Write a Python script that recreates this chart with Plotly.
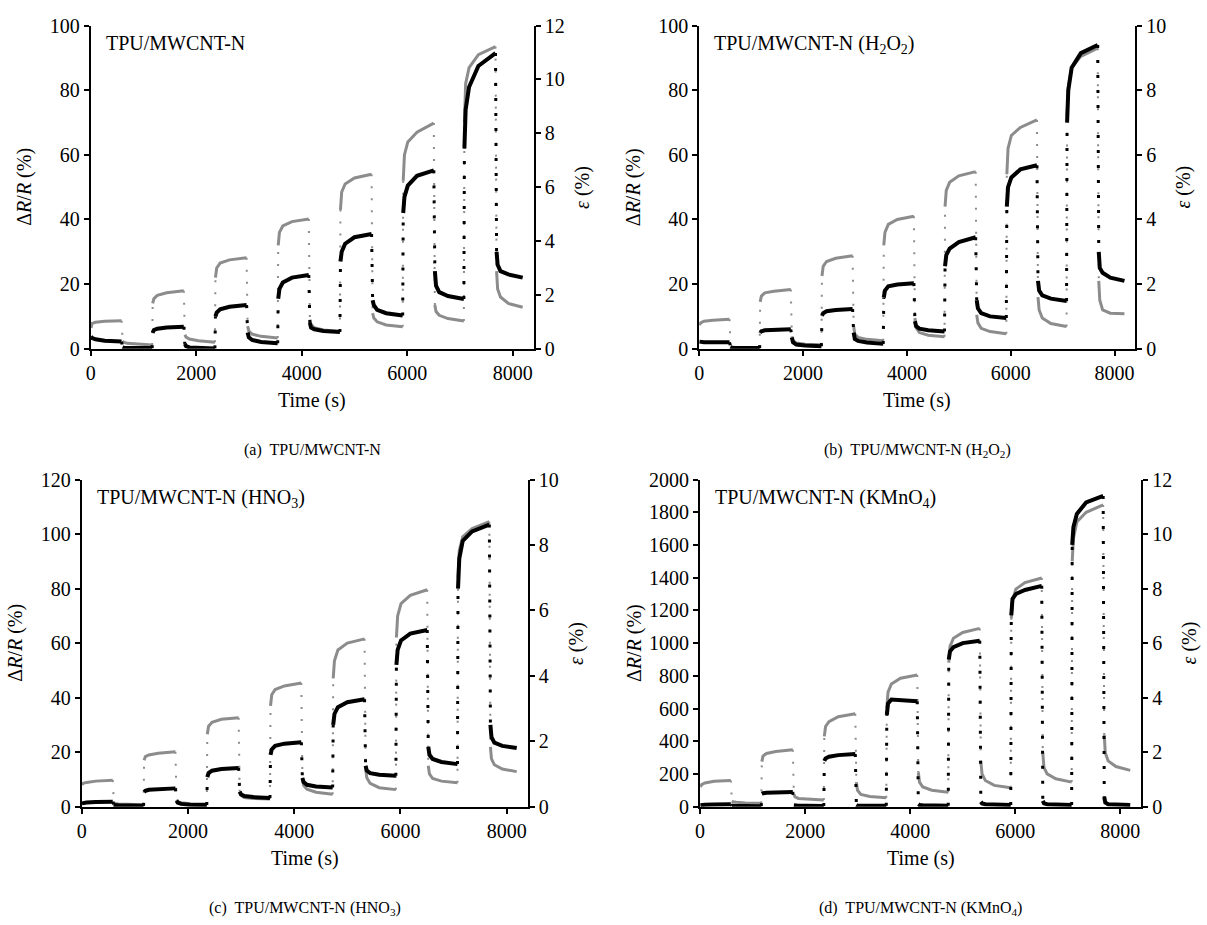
import plotly.graph_objects as go

# ---------------- timing of the loading programme (s) ----------------
LOAD_T = [0, 1170, 2360, 3550, 4730, 5920, 7080]
UNLOAD_T = [590, 1770, 2960, 4140, 5330, 6510, 7680]
END_T = 8190
SAMPLE_FRAC = [0.0, 0.04, 0.15, 0.45, 1.0]   # where in each segment the values were read

X_TICKS = [0, 2000, 4000, 6000, 8000]

# ---------------- panel (a) TPU/MWCNT-N ----------------
DRR_A = [[3.8, 3.3, 2.9, 2.5, 2.2], [0.5, 0.3, 0.2, 0.2, 0.2],
         [5.0, 5.8, 6.2, 6.6, 6.8], [1.5, 0.8, 0.4, 0.2, 0.1],
         [10.0, 11.2, 12.2, 13.0, 13.5], [5.0, 3.5, 2.7, 2.1, 1.7],
         [15.5, 18.5, 20.5, 22.0, 22.8], [8.0, 6.5, 6.0, 5.5, 5.2],
         [27, 30, 32.5, 34.5, 35.5], [15, 13.5, 12, 11, 10.3],
         [42, 47, 50.5, 53.5, 55.2], [24, 19.5, 17.5, 16.3, 15.4],
         [62, 74, 81, 87.5, 91.5], [30, 26, 24, 23, 22]]
EPS_A = [[0.78, 0.94, 0.98, 1.02, 1.04], [0.28, 0.24, 0.20, 0.17, 0.14],
         [1.68, 1.86, 1.98, 2.08, 2.15], [0.52, 0.43, 0.36, 0.30, 0.24],
         [2.64, 3.00, 3.18, 3.30, 3.38], [0.84, 0.66, 0.54, 0.46, 0.40],
         [3.84, 4.32, 4.56, 4.72, 4.82], [1.08, 0.90, 0.78, 0.70, 0.64],
         [5.16, 5.82, 6.12, 6.34, 6.48], [1.32, 1.14, 1.00, 0.88, 0.82],
         [6.24, 7.20, 7.68, 8.04, 8.38], [1.62, 1.38, 1.24, 1.12, 1.03],
         [8.40, 9.84, 10.44, 10.92, 11.22], [2.88, 2.22, 1.92, 1.68, 1.54]]

# ---------------- panel (b) TPU/MWCNT-N (H2O2) ----------------
DRR_B = [[2.2, 2.1, 2.0, 2.0, 2.0], [0.5, 0.3, 0.2, 0.2, 0.2],
         [5.0, 5.4, 5.7, 5.9, 6.0], [3.5, 2.0, 1.3, 1.0, 0.8],
         [10.3, 11.0, 11.6, 12.0, 12.3], [5.0, 3.0, 2.4, 1.9, 1.5],
         [15.8, 18.0, 19.3, 19.9, 20.3], [8.5, 7.0, 6.2, 5.7, 5.3],
         [25.5, 29, 31, 33, 34.5], [15, 12.5, 11, 10, 9.5],
         [44, 50, 53, 55.5, 56.8], [21, 18, 16.5, 15.5, 14.8],
         [70, 80, 87, 91.5, 94], [30, 25, 23.5, 22, 21]]
EPS_B = [[0.73, 0.80, 0.85, 0.88, 0.91], [0.08, 0.05, 0.04, 0.03, 0.03],
         [1.45, 1.63, 1.73, 1.78, 1.83], [0.38, 0.25, 0.18, 0.14, 0.12],
         [2.25, 2.55, 2.70, 2.80, 2.88], [0.70, 0.45, 0.35, 0.29, 0.25],
         [3.2, 3.6, 3.85, 4.0, 4.1], [0.95, 0.65, 0.50, 0.42, 0.37],
         [4.4, 4.9, 5.15, 5.35, 5.48], [1.05, 0.80, 0.63, 0.53, 0.46],
         [5.4, 6.2, 6.6, 6.85, 7.08], [1.6, 1.2, 0.95, 0.78, 0.69],
         [7.2, 8.1, 8.7, 9.05, 9.3], [2.1, 1.5, 1.2, 1.1, 1.08]]

# ---------------- panel (c) TPU/MWCNT-N (HNO3) ----------------
DRR_C = [[1.2, 1.3, 1.5, 1.7, 1.8], [0.8, 0.6, 0.5, 0.4, 0.3],
         [5.3, 5.8, 6.2, 6.5, 6.7], [2.2, 1.5, 1.0, 0.7, 0.6],
         [10.8, 12.3, 13.2, 13.8, 14.2], [5.5, 4.5, 3.9, 3.5, 3.2],
         [19, 21, 22.3, 23.1, 23.6], [10.5, 9.0, 8.0, 7.4, 7.0],
         [30, 34, 36.5, 38.3, 39.4], [15, 13.2, 12.3, 11.7, 11.3],
         [52, 57.5, 61, 63.5, 64.8], [22, 19, 17.5, 16.4, 15.6],
         [80, 91, 97.5, 101, 103.5], [30, 25.5, 23.5, 22.3, 21.5]]
EPS_C = [[0.67, 0.71, 0.74, 0.78, 0.81], [0.13, 0.10, 0.08, 0.07, 0.06],
         [1.42, 1.53, 1.58, 1.63, 1.68], [0.21, 0.15, 0.12, 0.09, 0.08],
         [2.21, 2.46, 2.58, 2.67, 2.72], [0.46, 0.35, 0.28, 0.25, 0.23],
         [3.08, 3.42, 3.58, 3.69, 3.78], [0.88, 0.65, 0.53, 0.44, 0.38],
         [3.92, 4.46, 4.79, 5.0, 5.13], [1.17, 0.88, 0.71, 0.58, 0.52],
         [5.17, 5.83, 6.21, 6.46, 6.63], [1.25, 1.0, 0.86, 0.78, 0.73],
         [7.0, 7.83, 8.25, 8.5, 8.71], [1.83, 1.46, 1.28, 1.15, 1.07]]

# ---------------- panel (d) TPU/MWCNT-N (KMnO4) ----------------
DRR_D = [[8, 10, 12, 13, 14], [6, 5, 4, 4, 3],
         [78, 82, 85, 88, 90], [8, 6, 5, 5, 4],
         [280, 295, 305, 315, 322], [10, 6, 5, 5, 5],
         [560, 630, 655, 650, 645], [15, 10, 8, 7, 6],
         [900, 950, 975, 1000, 1015], [30, 20, 15, 12, 10],
         [1170, 1270, 1300, 1325, 1350], [35, 20, 15, 12, 10],
         [1600, 1710, 1790, 1860, 1900], [60, 25, 15, 12, 10]]
EPS_D = [[0.72, 0.81, 0.87, 0.93, 0.96], [0.21, 0.18, 0.16, 0.13, 0.12],
         [1.65, 1.86, 1.95, 2.02, 2.09], [0.45, 0.36, 0.30, 0.27, 0.24],
         [2.58, 2.94, 3.12, 3.30, 3.41], [0.90, 0.60, 0.45, 0.37, 0.33],
         [3.60, 4.20, 4.50, 4.71, 4.83], [1.26, 0.90, 0.72, 0.60, 0.53],
         [5.28, 5.88, 6.18, 6.39, 6.54], [1.68, 1.20, 0.96, 0.78, 0.69],
         [6.90, 7.56, 7.98, 8.22, 8.39], [1.98, 1.44, 1.20, 1.02, 0.90],
         [9.0, 9.84, 10.44, 10.80, 11.07], [2.64, 1.98, 1.68, 1.47, 1.33]]

PANELS = [
    dict(drr=DRR_A, eps=EPS_A, ymax=100, ydt=20, emax=12,
         label="TPU/MWCNT-N", caption="(a)  TPU/MWCNT-N",
         xdom=[0.0713, 0.4399], ydom=[0.626, 0.9838]),
    dict(drr=DRR_B, eps=EPS_B, ymax=100, ydt=20, emax=10,
         label="TPU/MWCNT-N (H<sub>2</sub>O<sub>2</sub>)",
         caption="(b)  TPU/MWCNT-N (H<sub>2</sub>O<sub>2</sub>)",
         xdom=[0.5775, 0.9404], ydom=[0.626, 0.9838]),
    dict(drr=DRR_C, eps=EPS_C, ymax=120, ydt=20, emax=10,
         label="TPU/MWCNT-N (HNO<sub>3</sub>)",
         caption="(c)  TPU/MWCNT-N (HNO<sub>3</sub>)",
         xdom=[0.0638, 0.4350], ydom=[0.1189, 0.4811]),
    dict(drr=DRR_D, eps=EPS_D, ymax=2000, ydt=200, emax=12,
         label="TPU/MWCNT-N (KMnO<sub>4</sub>)",
         caption="(d)  TPU/MWCNT-N (KMnO<sub>4</sub>)",
         xdom=[0.5783, 0.9453], ydom=[0.1189, 0.4811]),
]

FONT = "Liberation Serif"
BLACK = "#000000"
GREY = "#8c8c8c"


def segment_bounds(k):
    i = k // 2
    if k % 2 == 0:
        return LOAD_T[i] + 5, UNLOAD_T[i] - 5
    t1 = LOAD_T[i + 1] - 5 if i + 1 < len(LOAD_T) else END_T
    return UNLOAD_T[i] + 15, t1


def build(series):
    xs, ys, tx, ty = [], [], [], []
    prev = None
    for k, vals in enumerate(series):
        t0, t1 = segment_bounds(k)
        t = [t0 + f * (t1 - t0) for f in SAMPLE_FRAC]
        xs += t + [None]
        ys += list(vals) + [None]
        if prev is not None:
            tx += [prev[0], t[0], None]
            ty += [prev[1], vals[0], None]
        prev = (t[-1], vals[-1])
    return xs, ys, tx, ty


fig = go.Figure()
annotations = []
layout = {}

for p_i, p in enumerate(PANELS):
    n = p_i + 1
    xa = f"x{n}"
    y_eps = f"y{2 * n - 1}"   # base axis (right side, strain)
    y_drr = f"y{2 * n}"       # overlay axis (left side, dR/R)

    ex, ey, etx, ety = build(p["eps"])
    dx, dy, dtx, dty = build(p["drr"])

    fig.add_trace(go.Scatter(x=etx, y=ety, mode="lines", xaxis=xa, yaxis=y_eps,
                             line=dict(color=GREY, width=2, dash="2px,10px"),
                             showlegend=False, hoverinfo="skip"))
    fig.add_trace(go.Scatter(x=ex, y=ey, mode="lines", xaxis=xa, yaxis=y_eps,
                             line=dict(color=GREY, width=3),
                             showlegend=False, name="ε"))
    fig.add_trace(go.Scatter(x=dtx, y=dty, mode="lines", xaxis=xa, yaxis=y_drr,
                             line=dict(color=BLACK, width=3, dash="3px,12px"),
                             showlegend=False, hoverinfo="skip"))
    fig.add_trace(go.Scatter(x=dx, y=dy, mode="lines", xaxis=xa, yaxis=y_drr,
                             line=dict(color=BLACK, width=4),
                             showlegend=False, name="ΔR/R"))

    axis_common = dict(showline=True, linecolor="black", linewidth=2,
                       ticks="outside", ticklen=5, tickwidth=1.5, tickcolor="black",
                       showgrid=False, zeroline=False,
                       tickfont=dict(family=FONT, size=20, color="black"))
    layout[f"xaxis{n}"] = dict(domain=p["xdom"], anchor=y_eps, range=[0, 8400],
                               tickvals=X_TICKS, ticktext=[str(v) for v in X_TICKS],
                               **axis_common)
    layout[f"yaxis{2 * n - 1}"] = dict(domain=p["ydom"], anchor=xa, side="right",
                                       range=[0, p["emax"]], dtick=2, tick0=0,
                                       **axis_common)
    layout[f"yaxis{2 * n}"] = dict(overlaying=y_eps, anchor=xa, side="left",
                                   range=[0, p["ymax"]], dtick=p["ydt"], tick0=0,
                                   **axis_common)

    x0, x1 = p["xdom"]
    y0, y1 = p["ydom"]
    xc = (x0 + x1) / 2
    annotations.append(dict(text=p["label"], x=x0 + 0.011, y=y1 - 0.005, xref="paper", yref="paper",
                            xanchor="left", yanchor="top", showarrow=False,
                            font=dict(family=FONT, size=20, color="black")))
    annotations.append(dict(text="Time (s)", x=xc, y=y0 - 0.042, xref="paper", yref="paper",
                            xanchor="center", yanchor="top", showarrow=False,
                            font=dict(family=FONT, size=20, color="black")))
    annotations.append(dict(text=p["caption"], x=xc, y=y0 - 0.1, xref="paper", yref="paper",
                            xanchor="center", yanchor="top", showarrow=False,
                            font=dict(family=FONT, size=16, color="black")))
    annotations.append(dict(text="Δ<i>R</i>/<i>R</i> (%)", x=x0 - 0.055, y=(y0 + y1) / 2,
                            xref="paper", yref="paper", xanchor="center", yanchor="middle",
                            textangle=-90, showarrow=False,
                            font=dict(family=FONT, size=20, color="black")))
    annotations.append(dict(text="<i>ε</i> (%)", x=x1 + 0.04, y=(y0 + y1) / 2,
                            xref="paper", yref="paper", xanchor="center", yanchor="middle",
                            textangle=-90, showarrow=False,
                            font=dict(family=FONT, size=20, color="black")))

fig.update_layout(**layout)
fig.update_layout(width=1207, height=925, margin=dict(l=0, r=0, t=0, b=0),
                  paper_bgcolor="white", plot_bgcolor="white",
                  annotations=annotations, showlegend=False)

fig.write_html("out.html")
